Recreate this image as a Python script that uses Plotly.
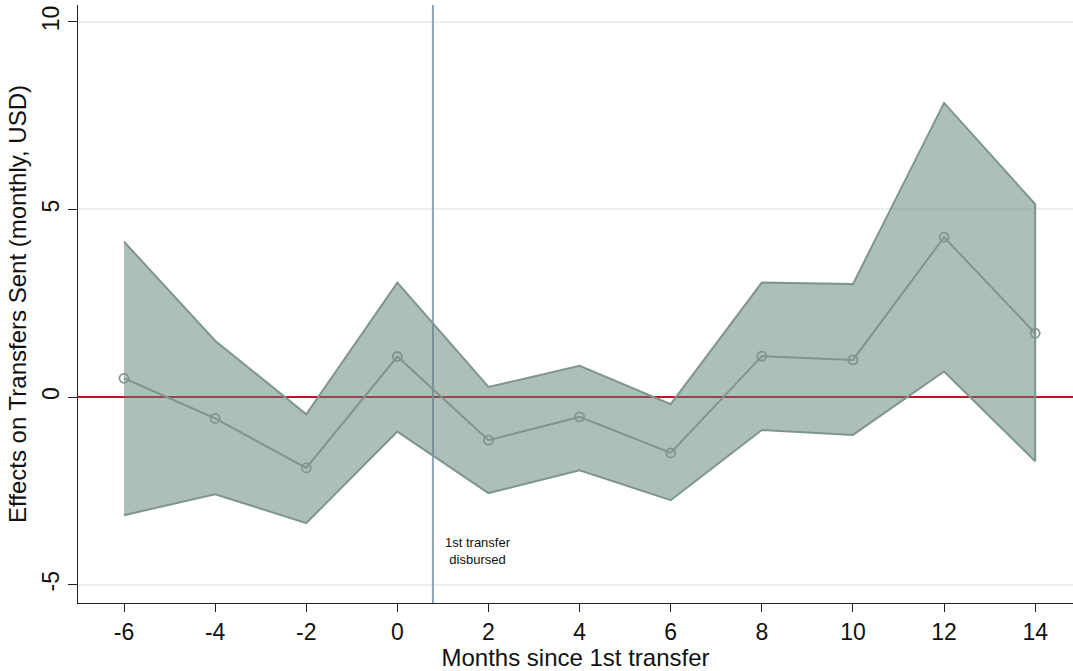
import plotly.graph_objects as go

# Event-study estimates of monthly transfers sent (USD)
months = [-6, -4, -2, 0, 2, 4, 6, 8, 10, 12, 14]
estimate = [0.50, -0.57, -1.89, 1.08, -1.15, -0.53, -1.49, 1.09, 0.99, 4.26, 1.70]
ci_upper = [4.14, 1.50, -0.46, 3.05, 0.27, 0.83, -0.19, 3.05, 3.01, 7.84, 5.14]
ci_lower = [-3.15, -2.59, -3.36, -0.92, -2.56, -1.95, -2.75, -0.88, -1.01, 0.68, -1.71]

first_transfer_month = 0.78
x_ticks = [-6, -4, -2, 0, 2, 4, 6, 8, 10, 12, 14]
x_tick_labels = ["-6", "-4", "-2", "0", "2", "4", "6", "8", "10", "12", "14"]
y_ticks = [-5, 0, 5, 10]
y_tick_labels = ["-5", "0", "5", "10"]
x_range = [-7.01, 14.83]
y_range = [-5.49, 10.45]

FONT = "Liberation Sans, Arial, Helvetica, sans-serif"
band_line = "#7f968c"

fig = go.Figure()

# Zero reference line (drawn first so the band sits over it)
fig.add_trace(go.Scatter(
    x=x_range, y=[0, 0], mode="lines",
    line=dict(color="#c8102e", width=2),
    hoverinfo="skip", showlegend=False, cliponaxis=True,
))

# First-transfer marker line
fig.add_trace(go.Scatter(
    x=[first_transfer_month, first_transfer_month], y=y_range, mode="lines",
    line=dict(color="#8ea4bc", width=2),
    hoverinfo="skip", showlegend=False,
))

# Confidence band as a closed polygon
fig.add_trace(go.Scatter(
    x=months + months[::-1],
    y=ci_upper + ci_lower[::-1],
    fill="toself",
    fillcolor="rgba(93,128,115,0.5)",
    line=dict(color=band_line, width=2),
    mode="lines",
    hoverinfo="skip",
    showlegend=False,
))

# Point estimates
fig.add_trace(go.Scatter(
    x=months,
    y=estimate,
    mode="lines+markers",
    line=dict(color=band_line, width=2),
    marker=dict(symbol="circle-open", size=9, color=band_line, line=dict(width=1.8)),
    showlegend=False,
))

fig.add_annotation(x=first_transfer_month + 1.0, y=-4.1, xref="x", yref="y",
                   text="1st transfer<br>disbursed", showarrow=False,
                   font=dict(family=FONT, size=13, color="#111111"),
                   align="center")

fig.update_layout(
    width=1073, height=671,
    margin=dict(l=78, r=0, t=5, b=68),
    plot_bgcolor="white",
    paper_bgcolor="white",
    font=dict(family=FONT, color="#111111"),
    xaxis=dict(
        range=x_range,
        tickvals=x_ticks, ticktext=x_tick_labels,
        ticks="outside", ticklen=8, tickwidth=1.3, tickcolor="#222222",
        showline=True, linecolor="#222222", linewidth=1.3,
        showgrid=False, zeroline=False,
        tickfont=dict(size=23, family=FONT, color="#111111"),
        title=dict(text="Months since 1st transfer", standoff=2,
                   font=dict(size=24, family=FONT, color="#111111")),
    ),
    yaxis=dict(
        range=y_range,
        tickvals=y_ticks, ticktext=y_tick_labels,
        tickangle=-90,
        ticks="outside", ticklen=9, tickwidth=1.3, tickcolor="#222222",
        showline=True, linecolor="#222222", linewidth=1.3,
        showgrid=True, gridcolor="#eaf0f2", gridwidth=1.5,
        zeroline=False,
        tickfont=dict(size=23, family=FONT, color="#111111"),
        title=dict(text="Effects on Transfers Sent (monthly, USD)", standoff=4,
                   font=dict(size=24, family=FONT, color="#111111")),
    ),
)

fig.write_html("out.html")
